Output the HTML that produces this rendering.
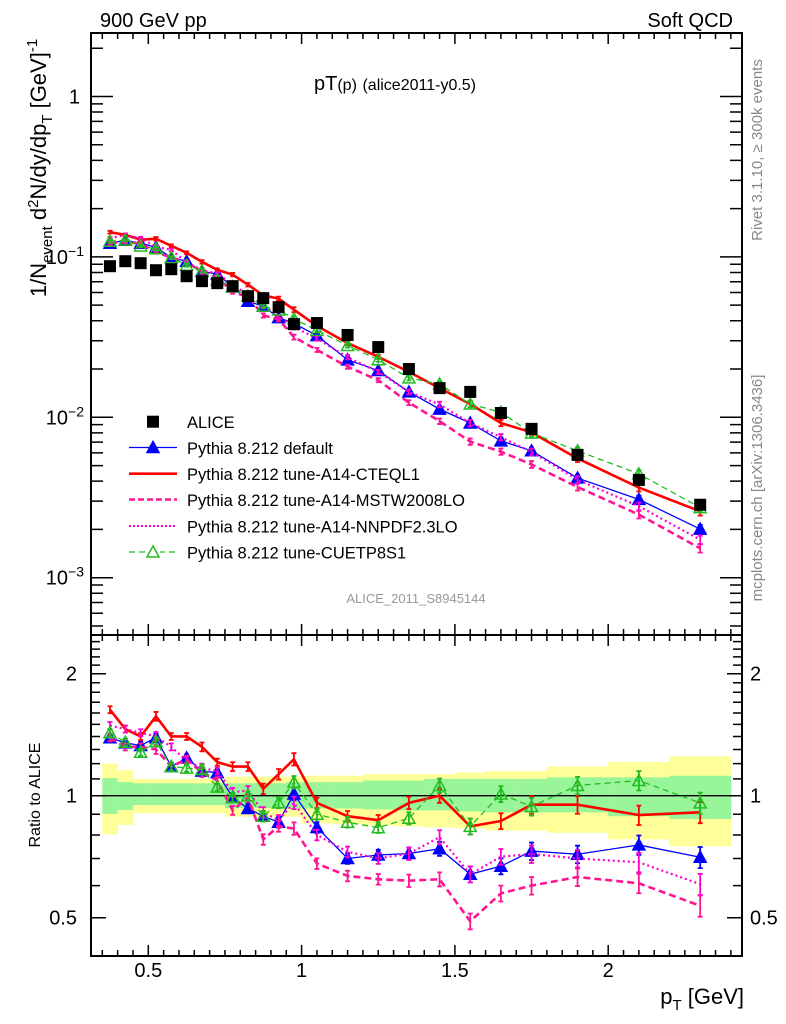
<!DOCTYPE html>
<html><head><meta charset="utf-8"><style>
html,body{margin:0;padding:0;background:#fff}
svg{display:block;font-family:"Liberation Sans",Arial,sans-serif}
</style></head><body>
<svg id="plot" width="786" height="1024" viewBox="0 0 786 1024" xmlns="http://www.w3.org/2000/svg">
<g id="bands"></g>
<g id="main"></g>
<g id="ratio"></g>
<g id="axes"></g>
<text x="100" y="27" font-size="20">900 GeV pp</text>
<text x="733" y="27" font-size="20" text-anchor="end">Soft QCD</text>
<text x="314" y="90" font-size="20">pT<tspan font-size="16">(p)</tspan> <tspan font-size="16">(alice2011-y0.5)</tspan></text>
<text x="416" y="603" font-size="13" fill="#999" text-anchor="middle">ALICE_2011_S8945144</text>
<text transform="translate(762,150) rotate(-90)" font-size="15" fill="#888" text-anchor="middle">Rivet 3.1.10, ≥ 300k events</text>
<text transform="translate(762,488) rotate(-90)" font-size="15" fill="#888" text-anchor="middle">mcplots.cern.ch [arXiv:1306.3436]</text>
<text transform="translate(46,168) rotate(-90)" font-size="22" text-anchor="middle">1/N<tspan font-size="15" dy="6">event</tspan><tspan dy="-6"> d</tspan><tspan font-size="15" dy="-8">2</tspan><tspan dy="8">N/dy/dp</tspan><tspan font-size="15" dy="6">T</tspan><tspan dy="-6">  [GeV]</tspan><tspan font-size="15" dy="-9">-1</tspan></text>
<text transform="translate(40,795) rotate(-90)" font-size="16" text-anchor="middle">Ratio to ALICE</text>
<text x="744" y="1004" font-size="22" text-anchor="end">p<tspan font-size="15" dy="6">T</tspan><tspan dy="-6"> [GeV]</tspan></text>
<g id="legend"></g>
</svg>
<script>
const pts = [0.375,0.425,0.475,0.525,0.575,0.625,0.675,0.725,0.775,0.825,0.875,0.925,0.975,1.05,1.15,1.25,1.35,1.45,1.55,1.65,1.75,1.9,2.1,2.3];
const binLo = [0.35,0.4,0.45,0.5,0.55,0.6,0.65,0.7,0.75,0.8,0.85,0.9,0.95,1.0,1.1,1.2,1.3,1.4,1.5,1.6,1.7,1.8,2.0,2.2];
const binHi = [0.4,0.45,0.5,0.55,0.6,0.65,0.7,0.75,0.8,0.85,0.9,0.95,1.0,1.1,1.2,1.3,1.4,1.5,1.6,1.7,1.8,2.0,2.2,2.4];
const alice = [0.0875,0.094,0.0914,0.0826,0.0838,0.0758,0.0706,0.0686,0.0657,0.0569,0.0553,0.0486,0.0381,0.0387,0.0326,0.0274,0.0200,0.0152,0.0144,0.01064,0.00847,0.00583,0.00407,0.00285];
const yelHi = [1.20,1.157,1.10,1.10,1.10,1.10,1.10,1.10,1.114,1.114,1.114,1.114,1.114,1.12,1.12,1.13,1.13,1.13,1.14,1.15,1.15,1.18,1.21,1.25];
const yelLo = [0.803,0.847,0.905,0.905,0.905,0.905,0.905,0.905,0.888,0.888,0.888,0.888,0.888,0.855,0.85,0.845,0.84,0.835,0.83,0.82,0.82,0.81,0.78,0.75];
const grnHi = [1.105,1.08,1.073,1.073,1.073,1.073,1.073,1.073,1.073,1.073,1.073,1.073,1.08,1.08,1.08,1.09,1.09,1.10,1.10,1.10,1.10,1.11,1.11,1.12];
const grnLo = [0.902,0.922,0.948,0.948,0.948,0.948,0.948,0.948,0.932,0.932,0.932,0.932,0.93,0.93,0.93,0.925,0.92,0.92,0.915,0.91,0.91,0.91,0.89,0.876];
const rDefault = [1.39,1.35,1.33,1.39,1.18,1.24,1.15,1.14,0.99,0.93,0.89,0.86,1.01,0.835,0.70,0.714,0.72,0.74,0.64,0.67,0.73,0.717,0.756,0.705];
const rCTEQ = [1.63,1.46,1.40,1.57,1.40,1.40,1.32,1.21,1.18,1.18,1.04,1.13,1.23,0.96,0.89,0.87,0.96,1.0,0.84,0.866,0.95,0.95,0.896,0.91];
const rMSTW = [1.39,1.32,1.32,1.30,1.18,1.23,1.14,1.09,0.92,0.99,0.78,0.84,0.83,0.68,0.634,0.622,0.617,0.622,0.49,0.574,0.60,0.63,0.608,0.535];
const rNNPDF = [1.49,1.46,1.43,1.40,1.32,1.22,1.17,1.15,1.02,1.03,0.91,0.87,0.96,0.80,0.727,0.70,0.72,0.79,0.64,0.707,0.718,0.70,0.685,0.605];
const rCUETP = [1.43,1.355,1.28,1.36,1.18,1.17,1.16,1.05,0.99,1.0,0.89,0.96,1.08,0.90,0.86,0.834,0.88,1.06,0.84,1.01,0.94,1.06,1.09,0.96];
const relErr = [0.02,0.02,0.02,0.025,0.02,0.02,0.025,0.02,0.025,0.025,0.03,0.03,0.035,0.03,0.03,0.03,0.035,0.04,0.045,0.045,0.05,0.05,0.055,0.06];
const xTicks = [0.5,1,1.5,2];
const xTickLabels = ["0.5","1","1.5","2"];
const rTicks = [0.5,1,2];
const rTickLabels = ["0.5","1","2"];

const NS="http://www.w3.org/2000/svg";
const L=91,R=742,MT=33,MB=635,RT=635,RB=956;
const X=p=>148.3+(p-0.5)*306.6;
const Y=v=>96.5-160.4*Math.log10(v);
const YR=r=>795.7-122*Math.log2(r);
function mk(tag,attrs,parent){const e=document.createElementNS(NS,tag);for(const k in attrs)e.setAttribute(k,attrs[k]);parent.appendChild(e);return e;}
const gB=document.getElementById('bands'),gM=document.getElementById('main'),gR=document.getElementById('ratio'),gA=document.getElementById('axes'),gL=document.getElementById('legend');

for(let i=0;i<binLo.length;i++){
  const y1=mk('rect',{x:X(binLo[i]),y:YR(yelHi[i]),width:X(binHi[i])-X(binLo[i])+0.5,height:YR(yelLo[i])-YR(yelHi[i]),fill:'#ffff99'},gB);
  
  
  const g1=mk('rect',{x:X(binLo[i]),y:YR(grnHi[i]),width:X(binHi[i])-X(binLo[i])+0.5,height:YR(grnLo[i])-YR(grnHi[i]),fill:'#99f599'},gB);
  
  
}
const one=mk('line',{x1:L,x2:R,y1:YR(1),y2:YR(1),stroke:'#000','stroke-width':1.3},gB);



const series=[
 {name:'default',r:rDefault,color:'#0000ff',w:1.3,dash:'',marker:'tri'},
 {name:'cteql1',r:rCTEQ,color:'#ff0000',w:2.6,dash:'',marker:'none'},
 {name:'mstw2008lo',r:rMSTW,color:'#ff1493',w:2.6,dash:'7,4',marker:'none'},
 {name:'nnpdf23lo',r:rNNPDF,color:'#ff00cc',w:2.2,dash:'2,3',marker:'none'},
 {name:'cuetp8s1',r:rCUETP,color:'#22bb22',w:1.3,dash:'6,4',marker:'otri'}
];
function tri(x,y,filled,color,parent,name){
  const t=mk('polygon',{points:`${x-6},${y+5} ${x+6},${y+5} ${x},${y-6}`,fill:filled?color:'none',stroke:color,'stroke-width':1.5},parent);
  
  
}
series.forEach(s=>{
  const mainV=pts.map((p,i)=>alice[i]*s.r[i]);
  [[gM,i=>Y(mainV[i])],[gR,i=>YR(s.r[i])]].forEach(([g,fy],pi)=>{
    const pl=mk('polyline',{points:pts.map((p,i)=>X(p)+','+fy(i)).join(' '),fill:'none',stroke:s.color,'stroke-width':s.w,'stroke-dasharray':s.dash},g);
    
    
    pts.forEach((p,i)=>{
      const v=pi?s.r[i]:mainV[i];
      const a=pi?YR(v*(1+relErr[i])):Y(v*(1+relErr[i])), b=pi?YR(v*(1-relErr[i])):Y(v*(1-relErr[i]));
      const e=mk('path',{d:`M${X(p)},${a}V${b}M${X(p)-2.5},${a}h5M${X(p)-2.5},${b}h5`,stroke:s.color,'stroke-width':1.8,fill:'none'},g);
      
      
      if(s.marker==='tri')tri(X(p),fy(i),true,s.color,g,'point-'+s.name);
      if(s.marker==='otri')tri(X(p),fy(i),false,s.color,g,'point-'+s.name);
    });
  });
});
pts.forEach((p,i)=>{
  const r=mk('rect',{x:X(p)-6,y:Y(alice[i])-6,width:12,height:12,fill:'#000'},gM);
  
  
});

[[MT,MB],[RT,RB]].forEach(([t,b],k)=>{
  const f=mk('rect',{x:L,y:t,width:R-L,height:b-t,fill:'none',stroke:'#000','stroke-width':2},gA);
  
  
});
let d='';
for(let k=7;k<=48;k++){const p=k*0.05;const x=X(p);if(x<L||x>R)continue;const len=(k%10===0)?11:6;
  d+=`M${x},${MT}v${len}M${x},${MB}v${-len}M${x},${RT}v${len}M${x},${RB}v${-len}`;}
for(let e=-4;e<=0;e++)for(let m=1;m<=9;m++){const v=m*Math.pow(10,e);const y=Y(v);if(y<MT||y>MB)continue;const len=m===1?22:12;
  d+=`M${L},${y}h${len}M${R},${y}h${-len}`;}
for(let v=0.4;v<=2.55;v+=0.1){const vv=Math.round(v*10)/10;const y=YR(vv);if(y<RT||y>RB)continue;const maj=(vv===0.5||vv===1||vv===2);const len=maj?15:9;
  d+=`M${L},${y}h${len}M${R},${y}h${-len}`;}
const tk=mk('path',{d:d,stroke:'#000','stroke-width':1.5,fill:'none'},gA);


xTicks.forEach((p,i)=>{const t=mk('text',{x:X(p),y:977,'font-size':20,'text-anchor':'middle'},gA);t.textContent=xTickLabels[i];
  
  });
rTicks.forEach((v,i)=>{
  const t=mk('text',{x:77,y:YR(v)+7,'font-size':20,'text-anchor':'end'},gA);t.textContent=rTickLabels[i];
  
  
  const t2=mk('text',{x:750,y:YR(v)+7,'font-size':20},gA);t2.textContent=rTickLabels[i];
  
  });
const mainYTicks=[0,-1,-2,-3];
mainYTicks.forEach(e=>{
  const t=mk('text',{x:e===0?80:84,y:Y(Math.pow(10,e))+7,'font-size':20,'text-anchor':'end'},gA);
  
  
  if(e===0)t.textContent='1';else{t.textContent='10';const s=mk('tspan',{'font-size':14,dy:-8},t);s.textContent='−'+(-e);}
});

const legItems=[['ALICE','sq','#000','',0],['Pythia 8.212 default','tri','#0000ff','',1.3],['Pythia 8.212 tune-A14-CTEQL1','none','#ff0000','',2.6],['Pythia 8.212 tune-A14-MSTW2008LO','none','#ff1493','6,3',2.4],['Pythia 8.212 tune-A14-NNPDF2.3LO','none','#ff00cc','2,2',2],['Pythia 8.212 tune-CUETP8S1','otri','#22bb22','6,4',1.3]];
const legY=[421.7,447.5,473.7,499.5,526,552];
legItems.forEach((it,i)=>{
  const y=legY[i];
  const g=mk('g',{},gL);
  
  
  if(it[1]==='sq'){mk('rect',{x:147,y:y-6,width:12,height:12,fill:'#000'},g);}
  else{mk('line',{x1:129,x2:177,y1:y,y2:y,stroke:it[2],'stroke-width':it[4],'stroke-dasharray':it[3]},g);
    if(it[1]==='tri')tri(153,y,true,it[2],g,'legend-marker');
    if(it[1]==='otri'){mk('rect',{x:146,y:y-7,width:14,height:14,fill:'#fff'},g);tri(153,y,false,it[2],g,'legend-marker');}}
  const t=mk('text',{x:187,y:y+6.5,'font-size':16.5},g);t.textContent=it[0];
});
</script>
</body></html>
